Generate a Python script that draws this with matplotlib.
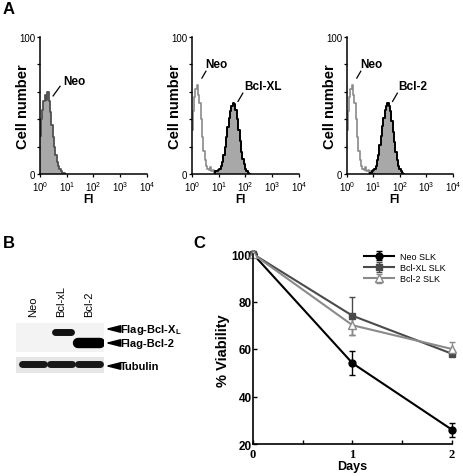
import matplotlib
matplotlib.use("Agg")
import matplotlib.pyplot as plt
import numpy as np

plt.rcParams['font.family'] = ['Liberation Sans', 'DejaVu Sans']
plt.rcParams['mathtext.fontset'] = 'custom'
plt.rcParams['mathtext.rm'] = 'Liberation Sans'
plt.rcParams['mathtext.bf'] = 'Liberation Sans:bold'

W, H = 464, 477

# ---- panel A: flow histograms (log10 fluorescence, cell counts) ----
neo1_log = [0.00, 0.05, 0.10, 0.15, 0.20, 0.25, 0.30, 0.35, 0.40, 0.45, 0.50,
            0.55, 0.60, 0.65, 0.70, 0.75, 0.80, 0.85, 0.90, 0.95]
neo1_cnt = [28, 40, 47, 53, 58, 54, 60, 53, 45, 36, 27, 20, 14, 9, 6, 4, 2, 1, 1, 0]

neo_log = [0.00, 0.05, 0.10, 0.15, 0.20, 0.25, 0.30, 0.35, 0.40, 0.45, 0.50,
           0.55, 0.60, 0.65, 0.70, 0.75, 0.80, 0.85, 0.90, 0.95, 1.00, 1.05]
neo_cnt = [32, 46, 56, 62, 65, 58, 52, 40, 27, 17, 10, 6, 4, 3, 5, 2, 3, 1, 2, 1, 1, 0]

bcl_log = [0.85, 0.90, 0.95, 1.00, 1.05, 1.10, 1.15, 1.20, 1.25, 1.30, 1.35,
           1.40, 1.45, 1.50, 1.55, 1.60, 1.65, 1.70, 1.75, 1.80, 1.85, 1.90,
           1.95, 2.00, 2.05, 2.10, 2.15]
bclxl_cnt = [1, 2, 2, 3, 4, 6, 9, 14, 20, 27, 34, 41, 46, 50, 52, 51, 47, 40,
             32, 24, 16, 11, 7, 4, 2, 1, 0]
bcl2_cnt = [1, 1, 2, 3, 4, 6, 10, 14, 21, 28, 35, 41, 47, 50, 52, 50, 46, 39,
            31, 23, 16, 10, 6, 4, 2, 1, 0]

# ---- panel B: western blot ----
lanes = ['Neo', 'Bcl-xL', 'Bcl-2']
band_names = [r'Flag-Bcl-X$_\mathbf{L}$', 'Flag-Bcl-2', 'Tubulin']
flag_xl = [0, 1, 0]
flag_b2 = [0, 0, 1]
tubulin = [1, 1, 1]

# ---- panel C: viability ----
days = [0, 1, 2]
neo_via = [100, 54, 26]
neo_err = [0, 5, 3]
xl_via = [100, 74, 58]
xl_err = [0, 8, 1]
b2_via = [100, 70, 60]
b2_err = [0, 4, 3]

fig = plt.figure(figsize=(W / 100, H / 100), dpi=100)


def px_axes(x0, y0, x1, y1):
    return fig.add_axes([x0 / W, 1 - y1 / H, (x1 - x0) / W, (y1 - y0) / H])


def hist_axes(ax):
    ax.set_xscale('log')
    ax.set_xlim(1, 1e4)
    ax.set_ylim(0, 100)
    ax.spines[['top', 'right']].set_visible(False)
    ax.spines[['left', 'bottom']].set_linewidth(1.1)
    ax.set_xticks([1, 10, 100, 1000, 10000])
    ax.xaxis.set_minor_locator(matplotlib.ticker.NullLocator())
    ax.set_yticks([0, 20, 40, 60, 80, 100])
    ax.set_yticklabels(['0', '', '', '', '', '100'])
    ax.tick_params(labelsize=7, length=2.5, width=0.9, pad=1)
    ax.text(0.45, -0.18, 'FI', transform=ax.transAxes, fontsize=8.5,
            fontweight='bold', ha='center', va='center', clip_on=False)
    ax.set_ylabel('Cell number', fontsize=10.5, fontweight='bold')
    ax.yaxis.set_label_coords(-0.095, 0.5)
    ax.patch.set_alpha(0)


def step_hist(ax, logs, cnts, fill, edge, lw):
    x = 10 ** np.array(logs)
    if fill:
        ax.fill_between(x, cnts, step='mid', color='#a8a8a8', lw=0)
    ax.step(x, cnts, where='mid', color=edge, lw=lw)


ax1 = px_axes(40, 38, 147, 175)
hist_axes(ax1)
step_hist(ax1, neo1_log, neo1_cnt, True, '#505050', 1.3)
ax1.plot([10 ** 0.49, 10 ** 0.75], [57, 64], color='black', lw=0.9)
ax1.text(10 ** 0.86, 68, 'Neo', fontsize=8.5, fontweight='bold', va='center')

for x0, x1, cnt, name in [(192, 299, bclxl_cnt, 'Bcl-XL'), (347, 453, bcl2_cnt, 'Bcl-2')]:
    ax = px_axes(x0, 38, x1, 175)
    hist_axes(ax)
    step_hist(ax, neo_log, neo_cnt, False, '#8a8a8a', 1.2)
    step_hist(ax, bcl_log, cnt, True, 'black', 1.4)
    ax.plot([10 ** 0.37, 10 ** 0.52], [70, 75], color='black', lw=0.9)
    ax.text(10 ** 0.49, 80, 'Neo', fontsize=8.5, fontweight='bold', va='center')
    ax.plot([10 ** 1.72, 10 ** 1.9], [53, 59], color='black', lw=0.9)
    ax.text(10 ** 1.94, 64, name, fontsize=8.5, fontweight='bold', va='center')

fig.text(3 / W, 1 - 9 / H, 'A', fontsize=12, fontweight='bold', va='center')
fig.text(3 / W, 1 - 244 / H, 'B', fontsize=12, fontweight='bold', va='center')
fig.text(193 / W, 1 - 244 / H, 'C', fontsize=12, fontweight='bold', va='center')

# ---- panel B drawing ----
axb1 = px_axes(16, 324, 104, 353)
axb1.set_xlim(-0.6, 2.53)
axb1.set_ylim(0, 1)
axb1.axis('off')
axb1.add_patch(plt.Rectangle((-0.6, 0), 3.13, 1, color='#f3f3f3', lw=0))
for i in range(3):
    if flag_xl[i]:
        axb1.plot([i - 0.22, i + 0.34], [0.7, 0.7], color='#111111', lw=5,
                  solid_capstyle='round')
    if flag_b2[i]:
        axb1.plot([i - 0.38, i + 0.4], [0.3, 0.3], color='black', lw=7.5,
                  solid_capstyle='round')
for i, name in enumerate(lanes):
    axb1.text(i, 1.25, name, rotation=90, fontsize=8, ha='center', va='bottom')

axb2 = px_axes(16, 358, 104, 374)
axb2.set_xlim(-0.6, 2.53)
axb2.set_ylim(0, 1)
axb2.axis('off')
axb2.add_patch(plt.Rectangle((-0.6, 0), 3.13, 1, color='#e6e6e6', lw=0))
for i in range(3):
    if tubulin[i]:
        axb2.plot([i - 0.4, i + 0.4], [0.55, 0.55], color='#181818', lw=5,
                  solid_capstyle='round')

for name, y in zip(band_names, [330, 344, 367]):
    fig.text(120 / W, 1 - y / H, name, fontsize=8, fontweight='bold', va='center')
    fig.add_artist(matplotlib.patches.FancyArrowPatch(
        (118 / W, 1 - y / H), (105 / W, 1 - y / H), transform=fig.transFigure,
        arrowstyle='-|>,head_length=1.1,head_width=0.28', mutation_scale=8,
        color='black', lw=1.2, shrinkA=0, shrinkB=0))

# ---- panel C drawing ----
axc = px_axes(253, 255, 452, 445)
axc.errorbar(days, neo_via, yerr=neo_err, color='black', marker='o', ms=5,
             lw=1.5, capsize=2.5, elinewidth=1, label='Neo SLK', clip_on=False)
axc.errorbar(days, xl_via, yerr=xl_err, color='#4a4a4a', marker='s', ms=4.5,
             lw=1.5, capsize=2.5, elinewidth=1, label='Bcl-XL SLK', clip_on=False)
axc.errorbar(days, b2_via, yerr=b2_err, color='#8a8a8a', marker='^', ms=6,
             mfc='white', lw=1.5, capsize=2.5, elinewidth=1, label='Bcl-2 SLK',
             clip_on=False)
axc.set_xlim(0, 2)
axc.set_ylim(20, 100)
axc.spines[['top', 'right']].set_visible(False)
axc.spines[['left', 'bottom']].set_linewidth(1.2)
axc.set_xticks([0, 1, 2])
axc.set_xticks([0.5, 1.5], minor=True)
axc.set_yticks([20, 40, 60, 80, 100])
axc.tick_params(direction='in', length=3, width=1, pad=1)
axc.tick_params(axis='x', pad=3)
axc.tick_params(which='minor', direction='in', length=3, width=1)
for t in axc.get_yticklabels():
    t.set_fontsize(8.5)
    t.set_fontweight('bold')
for t in axc.get_xticklabels():
    t.set_family('Liberation Serif')
    t.set_fontsize(9)
    t.set_fontweight('bold')
axc.set_xlabel('Days', fontsize=9, fontweight='bold', labelpad=0)
axc.set_ylabel('% Viability', fontsize=10.5, fontweight='bold')
axc.yaxis.set_label_coords(-0.115, 0.495)
axc.legend(loc='upper right', bbox_to_anchor=(0.985, 1.03), frameon=False,
           fontsize=6.5, handlelength=3.4, labelspacing=0.25, borderaxespad=0,
           handletextpad=0.6)

fig.savefig('out.png', dpi=100)
